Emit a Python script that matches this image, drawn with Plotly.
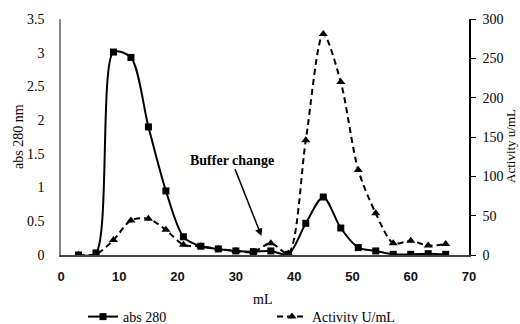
import plotly.graph_objects as go

volume_ml = [3, 6, 9, 12, 15, 18, 21, 24, 27, 30, 33, 36, 39, 42, 45, 48, 51, 54, 57, 60, 63, 66]
abs280 = [0.0, 0.03, 3.01, 2.93, 1.9, 0.95, 0.27, 0.13, 0.09, 0.06, 0.05, 0.06, 0.01,
          0.47, 0.86, 0.4, 0.11, 0.06, 0.01, 0.01, 0.02, 0.01]
activity = [0, 1, 19, 44, 46, 32, 13, 11, 8, 5, 4, 15, 2,
            146, 281, 220, 108, 53, 15, 18, 12, 14]

x_ticks = [0, 10, 20, 30, 40, 50, 60, 70]
y1_ticks = [0, 0.5, 1, 1.5, 2, 2.5, 3, 3.5]
y1_labels = ["0", "0.5", "1", "1.5", "2", "2.5", "3", "3.5"]
y2_ticks = [0, 50, 100, 150, 200, 250, 300]

SERIF = "Liberation Serif"

fig = go.Figure()
fig.add_trace(go.Scatter(
    x=volume_ml, y=abs280, name="abs 280", mode="lines+markers",
    line=dict(color="black", width=2, shape="spline", smoothing=0.8),
    marker=dict(symbol="square", size=7, color="black"),
    legend="legend", yaxis="y"))
fig.add_trace(go.Scatter(
    x=volume_ml, y=activity, name="Activity U/mL", mode="lines+markers",
    line=dict(color="black", width=2, dash="6px,4px", shape="spline", smoothing=0.8),
    marker=dict(symbol="triangle-up", size=8, color="black"),
    legend="legend2", yaxis="y2"))

W, H = 520, 324
L, R, T, B = 61, 51, 19, 69
pw, ph = W - L - R, H - T - B

def px_x(px):
    return (px - L) / pw

def px_y(py):
    return (H - B - py) / ph

fig.update_layout(
    width=W, height=H,
    margin=dict(l=L, r=R, t=T, b=B, pad=0, autoexpand=False),
    paper_bgcolor="white", plot_bgcolor="white",
    font=dict(family=SERIF, size=13, color="black"),
    xaxis=dict(range=[0, 70], tickvals=x_ticks, showgrid=False, zeroline=False,
               showline=True, linecolor="#444", linewidth=1.5, ticks="",
               tickfont=dict(family="Liberation Sans", size=13, weight="bold", color="#111"),
               ticklabelstandoff=9),
    yaxis=dict(range=[0, 3.5], tickvals=y1_ticks, ticktext=y1_labels, showgrid=False,
               zeroline=False, showline=True, linecolor="#888", linewidth=1.5, ticks="",
               tickfont=dict(family=SERIF, size=14), ticklabelstandoff=12),
    yaxis2=dict(range=[0, 300], tickvals=y2_ticks, overlaying="y", side="right",
                showgrid=False, zeroline=False, showline=True, linecolor="black",
                linewidth=1.5, ticks="outside", ticklen=5, tickcolor="black",
                tickfont=dict(family=SERIF, size=14), ticklabelstandoff=4),
    showlegend=True,
    legend=dict(orientation="h", x=px_x(83), y=px_y(317), xanchor="left", yanchor="middle",
                font=dict(family=SERIF, size=14), bgcolor="rgba(0,0,0,0)"),
    legend2=dict(orientation="h", x=px_x(272), y=px_y(317), xanchor="left", yanchor="middle",
                 font=dict(family=SERIF, size=14), bgcolor="rgba(0,0,0,0)"),
    annotations=[
        dict(text="mL", xref="paper", yref="paper", x=px_x(262), y=px_y(299),
             xanchor="center", yanchor="middle",
             showarrow=False, font=dict(family=SERIF, size=14)),
        dict(text="abs 280 nm", xref="paper", yref="paper", x=px_x(18), y=px_y(137),
             xanchor="center", yanchor="middle",
             textangle=-90, showarrow=False, font=dict(family=SERIF, size=14)),
        dict(text="Activity u/mL", xref="paper", yref="paper", x=px_x(510), y=px_y(146),
             xanchor="center", yanchor="middle",
             textangle=-90, showarrow=False, font=dict(family=SERIF, size=13)),
        dict(text="<b>Buffer change</b>", x=34.4, y=0.28, xref="x", yref="y",
             showarrow=True, arrowhead=2, arrowsize=1, arrowwidth=1.5, arrowcolor="black",
             ax=-30, ay=-76, font=dict(family=SERIF, size=14)),
    ],
)

fig.write_html("out.html")
